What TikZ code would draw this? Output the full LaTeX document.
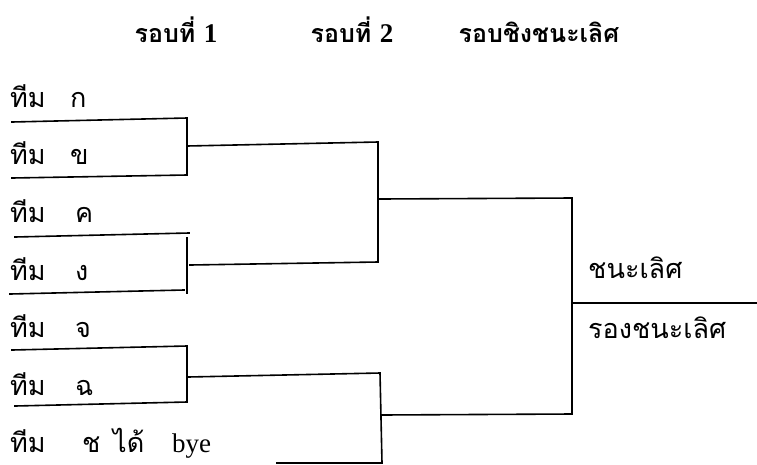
\documentclass[tikz,border=0pt]{standalone}
\usepackage{fontspec}
\setmainfont{Liberation Serif}
\newfontfamily\thai[Script=Thai]{Loma}
\newcommand{\tb}[2]{\makebox[#1][l]{#2}}
\begin{document}
\begin{tikzpicture}[x=1pt,y=-1pt,
  team/.style={anchor=base west,inner sep=0pt,font=\thai\fontsize{27}{32}\selectfont},
  head/.style={anchor=base,inner sep=0pt,font=\thai\bfseries\fontsize{25}{30}\selectfont},
  ln/.style={line width=1.6pt,line cap=rect}]
\useasboundingbox (0,0) rectangle (757,464);
% headers
\node[head] (h1) at (176,42) {รอบที่ {\rmfamily\bfseries\fontsize{27}{30}\selectfont 1}};
\node[head] (h2) at (352,42) {รอบที่ {\rmfamily\bfseries\fontsize{27}{30}\selectfont 2}};
\node[head] (h3) at (539,42) {รอบชิงชนะเลิศ};
% teams
\node[team] (t1) at (10,107) {\tb{60pt}{ทีม}ก};
\node[team] (t2) at (10,164) {\tb{60pt}{ทีม}ข};
\node[team] (t3) at (10,222) {\tb{65pt}{ทีม}ค};
\node[team] (t4) at (10,280) {\tb{65pt}{ทีม}ง};
\node[team] (t5) at (10,337) {\tb{65pt}{ทีม}จ};
\node[team] (t6) at (10,395) {\tb{65pt}{ทีม}ฉ};
\node[team] (t7) at (10,452) {\tb{72pt}{ทีม}\tb{31pt}{ช}\tb{59pt}{ได้}{\rmfamily\fontsize{27}{30}\selectfont bye}};
\node[team] (w) at (588,278) {ชนะเลิศ};
\node[team] (r) at (588,338) {รองชนะเลิศ};
% coordinates
\coordinate (a1) at (12,122); \coordinate (a2) at (187,118);
\coordinate (a3) at (187,175); \coordinate (a4) at (12,178);
\coordinate (am) at (187,146);
\coordinate (b1) at (15,237); \coordinate (b2) at (189,233);
\coordinate (b3) at (187,238); \coordinate (b4) at (187,293);
\coordinate (b5) at (10,294); \coordinate (b6) at (184,290);
\coordinate (bm) at (190,265);
\coordinate (c1) at (12,350); \coordinate (c2) at (187,346);
\coordinate (c3) at (187,402); \coordinate (c4) at (15,406);
\coordinate (cm) at (188,377);
\coordinate (p1) at (378,142); \coordinate (p2) at (378,262);
\coordinate (pm) at (380,199);
\coordinate (q1) at (380,373); \coordinate (q2) at (382,463);
\coordinate (q3) at (277,463); \coordinate (qm) at (381,415);
\coordinate (f1) at (572,198); \coordinate (f2) at (572,414);
\coordinate (fm) at (572,303); \coordinate (fe) at (757,303);
% bracket lines
\draw[ln] (a1) -- (a2) -- (a3) -- (a4);
\draw[ln] (am) -- (p1);
\draw[ln] (b1) -- (b2);
\draw[ln] (b3) -- (b4);
\draw[ln] (b5) -- (b6);
\draw[ln] (bm) -- (p2);
\draw[ln] (c1) -- (c2) -- (c3) -- (c4);
\draw[ln] (cm) -- (q1);
\draw[ln] (p1) -- (p2);
\draw[ln] (pm) -- (f1);
\draw[ln] (q1) -- (q2);
\draw[ln] (q3) -- (q2);
\draw[ln] (qm) -- (f2);
\draw[ln] (f1) -- (f2);
\draw[ln] (fm) -- (fe);
\end{tikzpicture}
\end{document}
